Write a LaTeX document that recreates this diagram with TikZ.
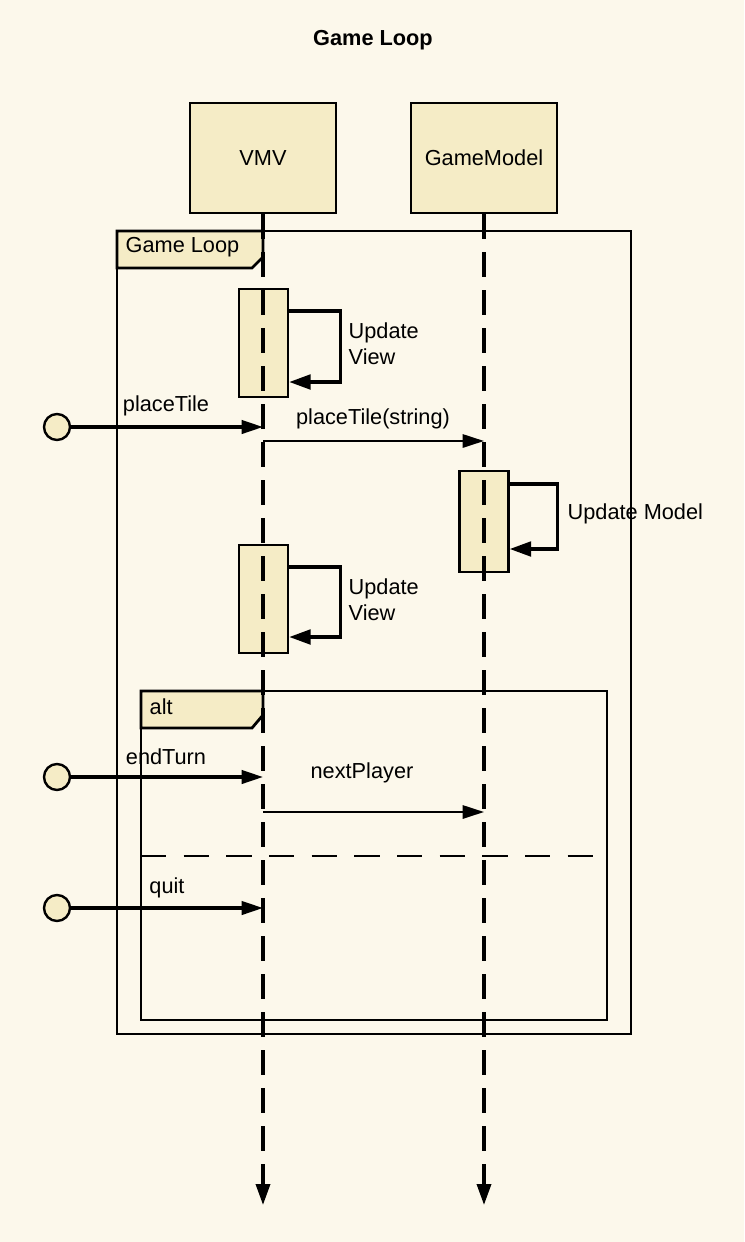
\documentclass[tikz,border=0pt]{standalone}
\usepackage{fontspec}
\setmainfont{Liberation Sans}
\usetikzlibrary{arrows.meta}
\definecolor{paper}{HTML}{FCF8EB}
\definecolor{boxfill}{HTML}{F5ECC6}
\tikzset{
  actorbox/.style={draw, line width=1.9pt, fill=boxfill, minimum width=109.5pt, minimum height=82.5pt},
  actbox/.style={draw, line width=1.9pt, fill=boxfill, minimum width=36.75pt},
  lifeline/.style={line width=2.6pt, dash pattern=on 18.75pt off 9.75pt, -{Triangle[length=15.75pt,width=10.5pt]}},
  msg/.style={line width=1.4pt, -{Triangle[length=16pt,width=10pt]}},
  selfmsg/.style={line width=2.3pt, -{Triangle[length=16pt,width=11pt]}},
  extmsg/.style={line width=2.3pt, -{Triangle[length=16pt,width=10pt]}},
  actor/.style={circle, draw, line width=1.8pt, fill=boxfill, minimum size=19.5pt, inner sep=0pt},
  frame/.style={line width=2.1pt},
  sep/.style={line width=1.7pt, dash pattern=on 19pt off 13pt}
}
\begin{document}
\begin{tikzpicture}[x=0.75pt, y=-0.75pt, font=\fontsize{16.3}{19.5}\selectfont]
\fill[paper] (0,0) rectangle (744,1242);
\node[font=\fontsize{16.3}{19.5}\selectfont\bfseries] (title) at (373,40) {Game Loop};

% frames
\draw[frame] (117,231) rectangle (631,1034);
\draw[frame, fill=boxfill] (117,231) -- (263,231) -- (263,257) -- (252,268) -- (117,268) -- cycle;
\node[anchor=west] (looplbl) at (121,247) {Game Loop};
\draw[frame] (141,691) rectangle (607,1020);
\draw[frame, fill=boxfill] (141,691) -- (263,691) -- (263,715) -- (252,728) -- (141,728) -- cycle;
\node[anchor=west] (altlbl) at (145,707) {alt};
\draw[sep] (141,856) -- (594,856);

% actors and activations
\node[actorbox] (vmv) at (263,158) {VMV};
\node[actorbox] (gm) at (484,158) {GameModel};
\node[actbox, minimum height=81pt] (act1) at (263.5,343) {};
\node[actbox, minimum height=81pt] (act2) at (263.5,599) {};
\node[actbox, minimum height=75.75pt] (act3) at (484,521.5) {};

\coordinate (vmvend) at (263,1205);
\coordinate (gmend) at (484,1205);
\draw[lifeline] (vmv) -- (vmvend);
\draw[lifeline] (gm) -- (gmend);

% self calls
\draw[selfmsg] (act1.east |- 0,311) -- ++(51,0) |- (act1.east |- 0,382);
\node[anchor=west, align=left] (upd1) at (344,344) {Update\\View};
\draw[selfmsg] (act2.east |- 0,567) -- ++(51,0) |- (act2.east |- 0,637);
\node[anchor=west, align=left] (upd2) at (344,600) {Update\\View};
\draw[selfmsg] (act3.east |- 0,484) -- ++(48,0) |- (act3.east |- 0,549);
\node[anchor=west] (upd3) at (563,514) {Update Model};

% external messages
\node[actor] (src1) at (57,427) {};
\draw[extmsg] (src1) -- (src1 -| vmv);
\node (lbl1) at (166,406) {placeTile};
\draw[msg] (vmv |- 0,441) -- (gm |- 0,441);
\node (lbl2) at (373,419) {placeTile(string)};

\node[actor] (src2) at (57,777) {};
\draw[extmsg] (src2) -- (src2 -| vmv);
\node (lbl3) at (166,757) {endTurn};
\draw[msg] (vmv |- 0,812) -- (gm |- 0,812);
\node (lbl4) at (362,773) {nextPlayer};

\node[actor] (src3) at (57,908) {};
\draw[extmsg] (src3) -- (src3 -| vmv);
\node (lbl5) at (167,888) {quit};
\end{tikzpicture}
\end{document}
